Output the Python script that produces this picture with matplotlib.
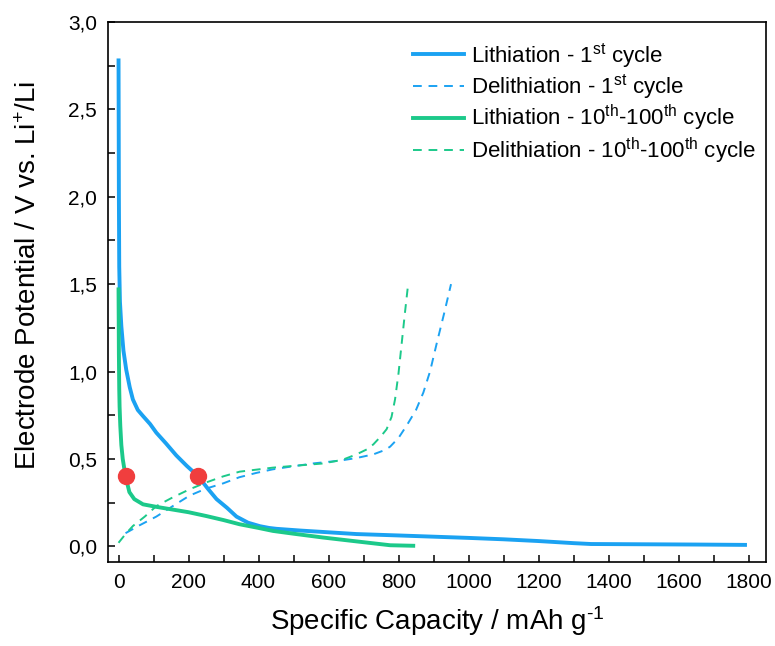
import matplotlib
matplotlib.use('Agg')
import matplotlib.pyplot as plt
from matplotlib.ticker import MultipleLocator, FuncFormatter

plt.rcParams['font.family'] = ['Liberation Sans', 'DejaVu Sans']
plt.rcParams['mathtext.fontset'] = 'custom'
plt.rcParams['mathtext.rm'] = 'Liberation Sans'
plt.rcParams['mathtext.it'] = 'Liberation Sans:italic'
plt.rcParams['mathtext.bf'] = 'Liberation Sans:bold'

# Lithiation - 1st cycle
lith1_x = [0, 0.5, 1, 2, 4, 8, 14, 22, 32, 41, 55, 70, 90, 108, 135, 165, 195, 228, 255, 280,
           310, 337, 370, 404, 430, 451, 520, 600, 680, 800, 900, 1000, 1100, 1200, 1300, 1350,
           1450, 1550, 1650, 1790]
lith1_y = [2.78, 2.4, 2.0, 1.6, 1.4, 1.26, 1.12, 1.01, 0.91, 0.84, 0.78, 0.745, 0.70, 0.65, 0.59,
           0.52, 0.46, 0.40, 0.33, 0.27, 0.22, 0.17, 0.135, 0.115, 0.105, 0.10, 0.09, 0.08, 0.07,
           0.062, 0.055, 0.048, 0.04, 0.03, 0.018, 0.013, 0.012, 0.011, 0.01, 0.008]

# Delithiation - 1st cycle
delith1_x = [20, 60, 108, 155, 203, 250, 299, 345, 394, 440, 489, 560, 632, 680, 728, 760, 776,
             800, 823, 850, 871, 890, 909, 930, 950]
delith1_y = [0.075, 0.12, 0.17, 0.23, 0.29, 0.33, 0.36, 0.395, 0.42, 0.44, 0.455, 0.475, 0.49,
             0.505, 0.526, 0.55, 0.57, 0.62, 0.69, 0.78, 0.88, 1.0, 1.16, 1.33, 1.50]

# Lithiation - 10th-100th cycle
lith10_x = [0, 0.5, 1, 2, 3, 5, 8, 12, 20, 31, 45, 70, 110, 155, 200, 251, 300, 346, 400, 441,
            500, 585, 680, 776, 842]
lith10_y = [1.47, 1.3, 1.1, 0.9, 0.8, 0.69, 0.58, 0.50, 0.40, 0.31, 0.27, 0.24, 0.225, 0.21,
            0.195, 0.173, 0.15, 0.126, 0.105, 0.088, 0.072, 0.05, 0.028, 0.006, 0.003]

# Delithiation - 10th-100th cycle
delith10_x = [0, 20, 41, 75, 108, 155, 203, 250, 299, 346, 400, 441, 500, 585, 640, 680, 710,
              728, 750, 766, 780, 790, 800, 809, 818, 828]
delith10_y = [0.02, 0.07, 0.116, 0.17, 0.23, 0.28, 0.326, 0.365, 0.40, 0.427, 0.44, 0.45, 0.46,
              0.474, 0.495, 0.526, 0.555, 0.583, 0.63, 0.67, 0.74, 0.84, 0.99, 1.16, 1.33, 1.51]

# marked points
dot_x = [20, 228]
dot_y = [0.40, 0.40]

blue = '#1ba2f2'
green = '#1cc98a'

fig = plt.figure(figsize=(7.75, 6.46), dpi=100)
ax = fig.add_axes([0.1394, 0.130, 0.849, 0.836])

ax.plot(lith1_x, lith1_y, color=blue, lw=2.8, label=r'Lithiation - 1$^{\mathrm{st}}$ cycle')
ax.plot(delith1_x, delith1_y, color=blue, lw=1.4, dashes=(4.5, 3.5),
        label=r'Delithiation - 1$^{\mathrm{st}}$ cycle')
ax.plot(lith10_x, lith10_y, color=green, lw=2.8,
        label=r'Lithiation - 10$^{\mathrm{th}}$-100$^{\mathrm{th}}$ cycle')
ax.plot(delith10_x, delith10_y, color=green, lw=1.4, dashes=(4.5, 3.5),
        label=r'Delithiation - 10$^{\mathrm{th}}$-100$^{\mathrm{th}}$ cycle')
ax.plot(dot_x, dot_y, 'o', color='#f03e3e', ms=11.5, zorder=5)

ax.set_xlim(-30, 1850)
ax.set_ylim(-0.09, 3.0)
ax.xaxis.set_major_locator(MultipleLocator(200))
ax.xaxis.set_minor_locator(MultipleLocator(100))
ax.yaxis.set_major_locator(MultipleLocator(0.5))
ax.yaxis.set_minor_locator(MultipleLocator(0.25))
ax.yaxis.set_major_formatter(FuncFormatter(lambda v, p: '{:.1f}'.format(v).replace('.', ',')))
ax.tick_params(which='both', direction='in', length=5, width=1.1, labelsize=15, pad=8)
for s in ax.spines.values():
    s.set_linewidth(1.2)

ax.set_xlabel('Specific Capacity / mAh g$^{\u2010\\mathrm{1}}$', fontsize=20, labelpad=9)
ax.set_ylabel(r'Electrode Potential / V vs. Li$^{+}$/Li', fontsize=20)
ax.yaxis.set_label_coords(-0.10, 0.53)

ax.legend(loc='upper left', bbox_to_anchor=(0.4635, 0.965), frameon=False, fontsize=16,
          handlelength=2.3, handletextpad=0.3, labelspacing=0.1, borderpad=0, borderaxespad=0)

fig.savefig('out.png', dpi=100)
